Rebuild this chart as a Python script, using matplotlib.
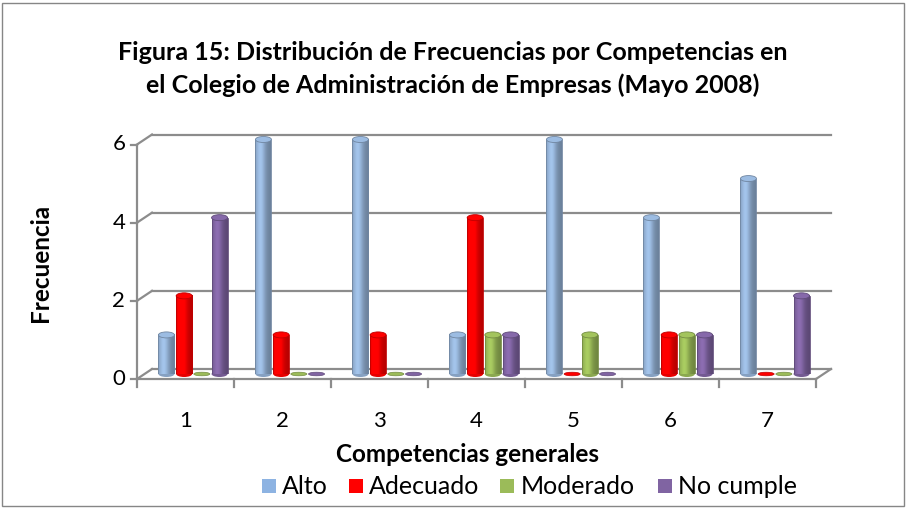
import matplotlib
matplotlib.use("Agg")
import matplotlib.pyplot as plt
import numpy as np
from matplotlib.patches import Ellipse, Rectangle

# data
categories = ["1", "2", "3", "4", "5", "6", "7"]
series_names = ["Alto", "Adecuado", "Moderado", "No cumple"]
alto = [1, 6, 6, 1, 6, 4, 5]
adecuado = [2, 1, 1, 4, 0, 1, 0]
moderado = [0, 0, 0, 1, 1, 1, 0]
no_cumple = [4, 0, 0, 1, 0, 1, 2]
y_ticks = [0, 2, 4, 6]

colors = ["#95B3D7", "#FF0000", "#9BBB59", "#8064A2"]
legend_colors = ["#8DB3E2", "#FF0000", "#9BBB59", "#8064A2"]

plt.rcParams['font.family'] = ['Lato', 'DejaVu Sans']

W, H = 907, 508
fig = plt.figure(figsize=(W / 100, H / 100), dpi=100)

# axes = middle plane of the fake 3D box (pixel coords from the reference)
left, right, y0px, y6px = 144.5, 823.5, 374, 139.5
ax = fig.add_axes([left / W, 1 - y0px / H, (right - left) / W, (y0px - y6px) / H])
ax.set_xlim(0.5, 7.5)
ax.set_ylim(0, 6)
ax.axis("off")

px_x = (right - left) / 7.0
px_y = (y0px - y6px) / 6.0
dx = 7.5 / px_x   # depth offset in data units
dy = 5.0 / px_y
grid_c = "#8C8C8C"
lw = 1.6

# back wall gridlines + left wall diagonals
for yv in y_ticks:
    ax.plot([0.5 + dx, 7.5 + dx], [yv + dy, yv + dy], color=grid_c, lw=lw, clip_on=False, zorder=1)
    ax.plot([0.5 - dx, 0.5 + dx], [yv - dy, yv + dy], color=grid_c, lw=lw, clip_on=False, zorder=1)
    ax.plot([0.5 - dx - 0.06, 0.5 - dx], [yv - dy, yv - dy], color=grid_c, lw=lw, clip_on=False, zorder=1)
    ax.text(0.5 - dx - 0.12, yv - dy, str(yv), ha="right", va="center", fontsize=16, clip_on=False)
# front vertical axis, floor front edge and right diagonal
ax.plot([0.5 - dx, 0.5 - dx], [0 - dy, 6 - dy], color=grid_c, lw=lw, clip_on=False, zorder=1)
ax.plot([0.5 - dx, 7.5 - dx], [0 - dy, 0 - dy], color=grid_c, lw=lw, clip_on=False, zorder=1)
ax.plot([7.5 - dx, 7.5 + dx], [0 - dy, 0 + dy], color=grid_c, lw=lw, clip_on=False, zorder=1)
for i in range(len(categories) + 1):
    xv = 0.5 + i - dx
    ax.plot([xv, xv], [-dy, -dy - 0.2], color=grid_c, lw=lw, clip_on=False, zorder=1)
for i, c in enumerate(categories):
    ax.text(1 + i - dx, -dy - 1.08, c, ha="center", va="center", fontsize=16, clip_on=False)


def shade(rgb, n=32):
    t = np.linspace(0, 1, n)
    f = 0.84 + 0.30 * np.exp(-((t - 0.35) / 0.30) ** 2) - 0.12 * t
    img = np.clip(np.outer(np.ones(2), f)[:, :, None] * np.array(rgb)[None, None, :], 0, 1)
    return img


data = [alto, adecuado, moderado, no_cumple]
bw = 16.0 / px_x
step = 17.7 / px_x
eh = 6.0 / px_y
for s, (vals, col) in enumerate(zip(data, colors)):
    rgb = np.array(matplotlib.colors.to_rgb(col))
    edge = rgb * 0.75
    for i, v in enumerate(vals):
        xc = 1 + i + (s - 1.5) * step
        z = 3 + i * 0.01
        if v == 0:
            ax.add_patch(Ellipse((xc, 0), bw, eh * 0.6, facecolor=col, edgecolor=edge, lw=0.5, zorder=z, clip_on=False))
            continue
        ax.add_patch(Ellipse((xc, 0), bw, eh, facecolor=rgb * 0.9, edgecolor="none", zorder=z, clip_on=False))
        ax.imshow(shade(rgb), extent=(xc - bw / 2, xc + bw / 2, 0, v), aspect="auto",
                  interpolation="bilinear", zorder=z, clip_on=False)
        ax.add_patch(Rectangle((xc - bw / 2, 0), bw, v, facecolor="none", edgecolor=edge, lw=0.6, zorder=z))
        ax.add_patch(Ellipse((xc, v), bw, eh, facecolor=np.clip(rgb * 1.05, 0, 1), edgecolor=edge,
                             lw=0.6, zorder=z + 0.005, clip_on=False))
ax.set_xlim(0.5, 7.5)
ax.set_ylim(0, 6)

# titles and labels
fig.text(453 / W, 1 - 52 / H, "Figura 15: Distribución de Frecuencias por Competencias en",
         ha="center", va="center", fontsize=18, fontweight="bold")
fig.text(453 / W, 1 - 85 / H, "el Colegio de Administración de Empresas (Mayo 2008)",
         ha="center", va="center", fontsize=18, fontweight="bold")
fig.text(40 / W, 1 - 263 / H, "Frecuencia", ha="center", va="center", rotation=90,
         fontsize=17.5, fontweight="bold")
fig.text(467 / W, 1 - 455 / H, "Competencias generales", ha="center", va="center",
         fontsize=17.5, fontweight="bold")

# legend
leg_x = [268.5, 355.5, 507.5, 664.5]
for lx, name, col in zip(leg_x, series_names, legend_colors):
    fig.patches.append(Rectangle(((lx - 7) / W, 1 - 493 / H), 14 / W, 14 / H,
                                 transform=fig.transFigure, facecolor=col, edgecolor="none"))
    fig.text((lx + 13) / W, 1 - 486 / H, name, ha="left", va="center", fontsize=18)

# outer chart border
fig.patches.append(Rectangle((2 / W, 2 / H), (W - 5) / W, (H - 5) / H, transform=fig.transFigure,
                             facecolor="none", edgecolor="#868686", lw=1))

fig.savefig("out.png", dpi=100)
